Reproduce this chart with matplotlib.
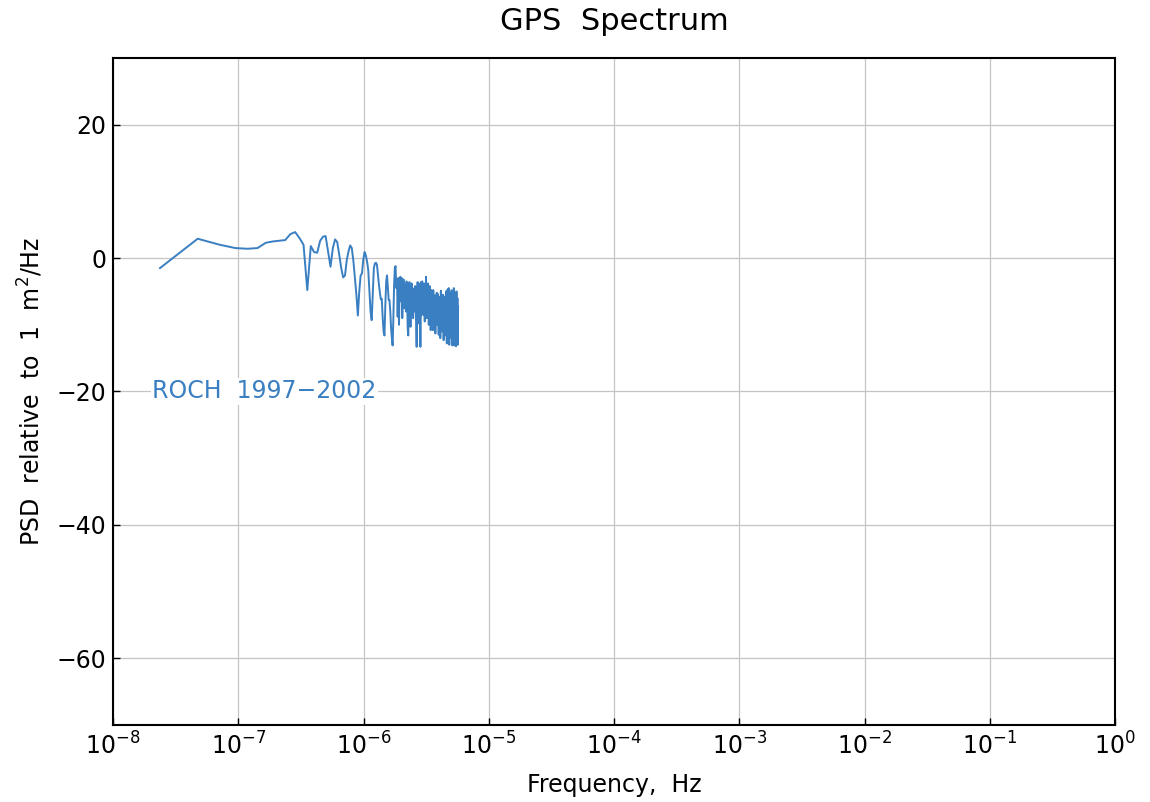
import matplotlib
matplotlib.use("Agg")
import matplotlib.pyplot as plt
import numpy as np

# spectrum of the ROCH GPS series, evenly spaced frequency bins
df = 2.37e-8  # Hz, bin width
psd_db = [
    -1.5, 2.9, 2.0, 1.5, 1.4, 1.5, 2.3, 2.5, 2.6, 2.7,
    3.6, 3.9, 3.0, 2.0, -4.8, 1.8, 0.9, 0.8, 2.6, 3.2,
    3.3, 1.0, -1.3, 1.5, 2.8, 2.4, 0.5, -1.5, -2.9, -2.6,
    -0.3, 1.0, 1.9, 1.5, -0.4, -3.0, -5.5, -8.6, -5.0, -2.6,
    -2.3, -0.2, 0.9, 0.4, -0.5, -1.8, -5.0, -8.0, -9.3, -5.5,
    -1.5, -0.8, -0.7, -1.0, -2.5, -4.0, -5.2, -6.2, -6.1, -9.0,
    -11.0, -11.6, -7.0, -3.5, -2.6, -4.5, -6.3, -6.3, -8.0, -10.5,
    -12.0, -13.1, -9.0, -4.0, -1.5, -1.2, -4.5, -3.1, -8.8, -3.0,
    -10.0, -3.0, -2.8, -6.5, -3.0, -9.0, -5.5, -3.2, -7.5, -4.0,
    -5.0, -8.0, -3.5, -6.0, -10.5, -11.6, -7.0, -3.6, -5.5, -10.3,
    -6.0, -3.8, -8.5, -4.5, -9.0, -6.5, -5.0, -8.0, -4.2, -7.0,
    -9.5, -13.3, -6.0, -3.6, -7.5, -4.8, -9.8, -3.9, -6.2, -13.3,
    -3.6, -8.6, -5.5, -3.5, -7.8, -5.0, -8.5, -3.8, -6.6, -9.5,
    -4.6, -7.3, -2.8, -6.2, -9.0, -5.0, -8.8, -3.8, -6.0, -10.0,
    -7.2, -4.2, -8.6, -5.5, -10.8, -6.5, -4.8, -8.2, -9.4, -6.4,
    -10.8, -4.8, -7.0, -9.6, -6.2, -8.4, -5.6, -11.3, -8.0, -6.0,
    -9.2, -5.2, -7.5, -10.0, -6.5, -5.4, -8.8, -11.5, -7.0, -9.0,
    -5.8, -8.5, -12.0, -7.2, -4.9, -9.5, -6.8, -11.0, -8.0, -6.2,
    -10.2, -5.5, -8.2, -12.3, -7.5, -9.8, -5.8, -8.8, -11.6, -7.0,
    -9.0, -5.0, -10.6, -7.8, -12.8, -6.2, -8.4, -4.7, -9.5, -11.8,
    -7.5, -4.5, -9.8, -13.0, -6.6, -8.2, -5.2, -10.4, -7.2, -12.0,
    -6.0, -9.0, -4.8, -11.0, -8.0, -13.1, -7.0, -5.0, -9.5, -12.3,
    -6.5, -4.5, -10.0, -7.8, -13.1, -8.5, -5.2, -11.5, -6.8, -9.6,
    -13.2, -7.0, -5.0, -12.5, -8.2, -10.6, -6.0, -13.0, -9.0, -7.2,
]
freq = df * np.arange(1, len(psd_db) + 1)

station_label = "ROCH  1997\u22122002"
line_color = "#3a7fc1"

fig = plt.figure(figsize=(11.5, 8.02), dpi=100)
ax = fig.add_axes([0.0983, 0.096, 0.8713, 0.8317])

ax.semilogx(freq, psd_db, color=line_color, lw=1.4, zorder=3)

ax.set_xlim(1e-8, 1e0)
ax.set_ylim(-70, 30)
ax.set_xticks([10.0 ** p for p in range(-8, 1)])
ax.xaxis.set_minor_locator(matplotlib.ticker.NullLocator())
ax.set_yticks([20, 0, -20, -40, -60])

ax.grid(True, color="#c4c4c4", lw=0.9)
ax.set_axisbelow(True)
ax.tick_params(direction="in", length=5, width=1, labelsize=17, pad=5)
for sp in ax.spines.values():
    sp.set_linewidth(1.5)

ax.text(2.05e-8, -20, station_label, color=line_color, fontsize=17,
        va="center", ha="left", zorder=4,
        bbox=dict(facecolor="white", edgecolor="none", pad=1))

ax.set_title("GPS  Spectrum", fontsize=22, pad=20)
ax.set_xlabel("Frequency,  Hz", fontsize=17, labelpad=10)
ax.set_ylabel("PSD  relative  to  1  m$^2$/Hz", fontsize=17, labelpad=8)

fig.savefig("out.png", dpi=100)
